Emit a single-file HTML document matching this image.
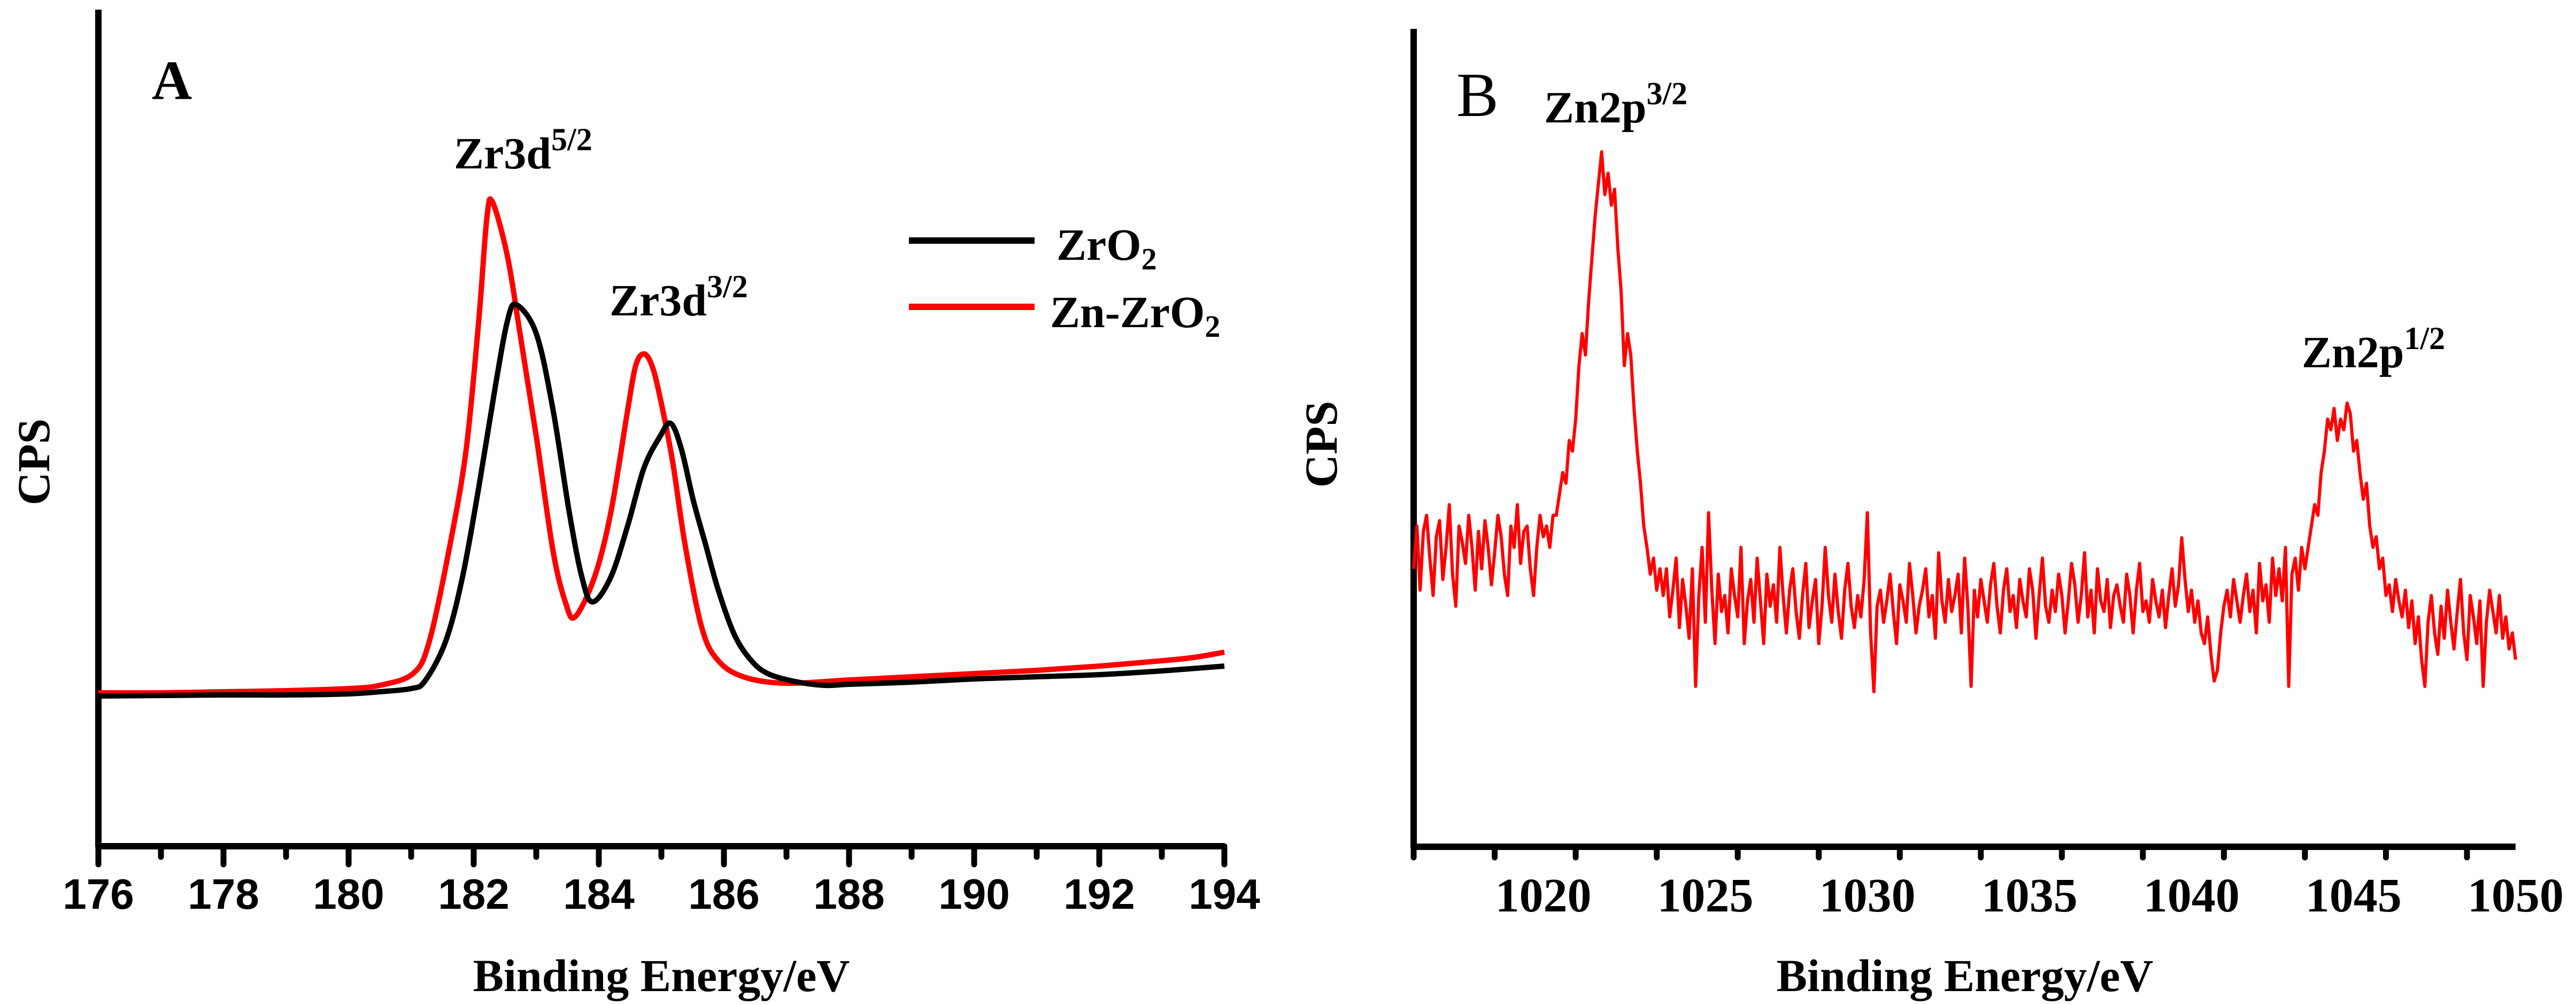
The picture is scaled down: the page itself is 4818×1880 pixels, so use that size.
<!DOCTYPE html>
<html><head><meta charset="utf-8"><style>
html,body{margin:0;padding:0;background:#fff;}
svg{display:block;}
.ser{font-family:"Liberation Serif",serif;font-weight:bold;}
.san{font-family:"Liberation Sans",sans-serif;font-weight:bold;}
</style></head><body>
<svg id="chart" width="4818" height="1880" viewBox="0 0 4818 1880" xmlns="http://www.w3.org/2000/svg">
<g id="panelA"></g>
<g id="panelB"></g>
<text class="ser" x="284" y="185" font-size="104">A</text>
<text class="ser" x="849" y="315" font-size="84">Zr3d<tspan dy="-34" font-size="60">5/2</tspan></text>
<text class="ser" x="1140" y="590" font-size="84">Zr3d<tspan dy="-34" font-size="60">3/2</tspan></text>
<g>
<line x1="1700" y1="450" x2="1935" y2="450" stroke="#000" stroke-width="12"/>
<text class="ser" x="1976" y="486" font-size="84">ZrO<tspan dy="18" font-size="58">2</tspan></text>
<line x1="1700" y1="574" x2="1935" y2="574" stroke="#f00" stroke-width="12"/>
<text class="ser" x="1964" y="612" font-size="84">Zn-ZrO<tspan dy="18" font-size="58">2</tspan></text>
</g>
<text class="ser" font-size="86" text-anchor="middle" transform="translate(92,864) rotate(-90)">CPS</text>
<text class="ser" font-size="86" text-anchor="middle" x="1237" y="1854">Binding Energy/eV</text>
<text font-family="Liberation Serif, serif" x="2724" y="217" font-size="118">B</text>
<text class="ser" x="2888" y="229" font-size="84">Zn2p<tspan dy="-34" font-size="60">3/2</tspan></text>
<text class="ser" x="4305" y="687" font-size="84">Zn2p<tspan dy="-34" font-size="60">1/2</tspan></text>
<text class="ser" font-size="86" text-anchor="middle" transform="translate(2500,831) rotate(-90)">CPS</text>
<text class="ser" font-size="86" text-anchor="middle" x="3675" y="1854">Binding Energy/eV</text>
</svg>
<script>
// Panel A data (binding energy eV, intensity in arbitrary CPS units)
const aBlackX = [176,177,178,179,180,180.5,181,181.22,181.55,181.82,182.08,182.35,182.54,182.68,183.0,183.27,183.53,183.73,183.9,184.19,184.46,184.72,184.98,185.15,185.32,185.51,185.71,185.91,186.17,186.44,186.7,187.1,187.6,188,189,190,191,192,193,194];
const aBlackY = [281,282,283,283,285,289,295,309,383,503,671,863,983,1013,959,815,623,503,457,503,599,707,767,791,743,647,563,479,395,347,323,309,301,303,307,313,317,321,328,337];
const aRedX = [176,177,178,179,180,180.5,181.03,181.29,181.62,181.88,182.08,182.21,182.3,182.54,182.74,183.0,183.27,183.47,183.62,183.93,184.19,184.46,184.59,184.72,184.85,184.98,185.18,185.38,185.65,185.91,186.31,186.96,188,189,190,191,192,193,193.5,194];
const aRedY = [287,287,289,291,295,301,323,383,563,743,983,1175,1205,1103,959,767,551,455,429,503,623,815,899,921,899,839,719,563,407,347,317,305,311,317,323,329,337,347,353,363];
const aTicks = [176,178,180,182,184,186,188,190,192,194];
const aTickLabels = ["176","178","180","182","184","186","188","190","192","194"];
// Panel B data (Zn 2p, 1016.0 to 1050.0 eV step 0.1)
const bStart = 1016.0, bStep = 0.1;
const bY = [520,600,480,590,620,540,470,580,610,500,
560,640,510,450,600,570,530,620,560,480,
590,520,610,560,490,550,620,580,510,470,
600,560,640,530,590,600,520,470,560,620,
580,600,560,620,
620,660,700,680,760,740,800,900,960,920,1020,1100,1180,1240,1300,1220,1260,1200,1230,1120,1040,900,960,920,820,740,680,600,560,510,540,480,520,
470,520,430,480,540,410,500,450,390,520,
300,470,560,420,625,480,380,510,440,470,
400,520,470,430,560,380,460,500,420,540,
460,380,510,450,490,420,560,470,400,480,
520,440,390,470,530,410,460,500,380,450,
560,470,420,510,440,390,480,530,450,410,
470,430,500,625,400,290,450,480,420,460,
510,440,380,490,460,420,530,470,400,450,
480,520,430,470,390,550,460,420,500,440,
470,510,400,540,450,300,480,430,500,460,
420,490,530,450,400,480,520,440,470,410,
500,460,430,520,480,390,470,540,450,420,
480,440,510,470,400,460,530,490,420,470,
550,430,480,400,520,460,440,500,410,470,
490,450,420,510,470,400,480,530,440,460,
420,500,460,430,480,410,470,520,450,490,
578,500,440,480,420,460,400,380,430,360,
310,330,400,450,480,430,500,460,420,470,
510,440,480,400,530,460,490,420,540,470,
520,460,560,300,510,540,480,560,520,
560,600,640,620,700,740,800,780,820,760,800,780,830,810,740,760,700,650,680,600,560,580,520,540,470,490,440,500,460,430,480,
410,460,380,430,350,300,420,470,400,360,450,390,480,420,370,440,500,400,350,470,430,380,460,300,420,480,440,400,470,390,430,370,400,350];
const bTicks = [1020,1025,1030,1035,1040,1045,1050];
const bTickLabels = ["1020","1025","1030","1035","1040","1045","1050"];

const NS = "http://www.w3.org/2000/svg";
function mk(tag, attrs, parent){const e=document.createElementNS(NS,tag);for(const k in attrs)e.setAttribute(k,attrs[k]);parent.appendChild(e);return e;}

const A = {x0:184, x1:2290, xmin:176, xmax:194, yBase:1583, top:18};
const B = {x0:2644, x1:4705, xmin:1016, xmax:1050, yBase:1584, top:54};
function ax(p,v){return p.x0+(v-p.xmin)/(p.xmax-p.xmin)*(p.x1-p.x0);}
function ay(p,v){return p.yBase - v;}

function drawAxes(p, g, ticks, labels, minorStep, cls, labelY, fs, nm){
  const axes = mk("path",{d:`M${p.x0},${p.top} L${p.x0},${p.yBase} L${p.x1},${p.yBase}`,fill:"none",stroke:"#000","stroke-width":12,"stroke-linejoin":"round"},g);
  
  
  for(let v=p.xmin; v<=p.xmax+1e-6; v+=minorStep){
    const isMajor = ticks.some(t=>Math.abs(t-v)<1e-6);
    const x = ax(p,v);
    const t = mk("line",{x1:x,y1:p.yBase,x2:x,y2:p.yBase+(isMajor?34:20),stroke:"#000","stroke-width":11,"stroke-linecap":"round"},g);
    
    
  }
  ticks.forEach((v,i)=>{
    const t = mk("text",{x:ax(p,v),y:labelY,"text-anchor":"middle","font-size":fs,class:cls},g);
    t.textContent = labels[i];
    
    
  });
}
const gA = document.getElementById("panelA");
const gB = document.getElementById("panelB");
drawAxes(A,gA,aTicks,aTickLabels,1,"san",1700,80,"panel-a");
drawAxes(B,gB,bTicks,bTickLabels,2.5,"ser",1705,90,"panel-b");

function linePath(p,xs,ys){return xs.map((x,i)=>(i?"L":"M")+ax(p,x).toFixed(1)+","+ay(p,ys[i]).toFixed(1)).join(" ");}
function smoothPath(p,xs,ys){
  const P = xs.map((x,i)=>[ax(p,x),ay(p,ys[i])]);
  let d = "M"+P[0][0].toFixed(1)+","+P[0][1].toFixed(1);
  for(let i=0;i<P.length-1;i++){
    const p0=P[Math.max(0,i-1)], p1=P[i], p2=P[i+1], p3=P[Math.min(P.length-1,i+2)];
    const c1=[p1[0]+(p2[0]-p0[0])/6, p1[1]+(p2[1]-p0[1])/6];
    const c2=[p2[0]-(p3[0]-p1[0])/6, p2[1]-(p3[1]-p1[1])/6];
    d += " C"+c1[0].toFixed(1)+","+c1[1].toFixed(1)+" "+c2[0].toFixed(1)+","+c2[1].toFixed(1)+" "+p2[0].toFixed(1)+","+p2[1].toFixed(1);
  }
  return d;
}
const red = mk("path",{d:smoothPath(A,aRedX,aRedY),fill:"none",stroke:"#f00","stroke-width":10,"stroke-linejoin":"round"},gA);


const blk = mk("path",{d:smoothPath(A,aBlackX,aBlackY),fill:"none",stroke:"#000","stroke-width":10,"stroke-linejoin":"round"},gA);



const bX = bY.map((_,i)=>bStart+i*bStep);
const zn = mk("path",{d:linePath(B,bX,bY),fill:"none",stroke:"#f00","stroke-width":6,"stroke-linejoin":"round"},gB);


</script>
</body></html>
